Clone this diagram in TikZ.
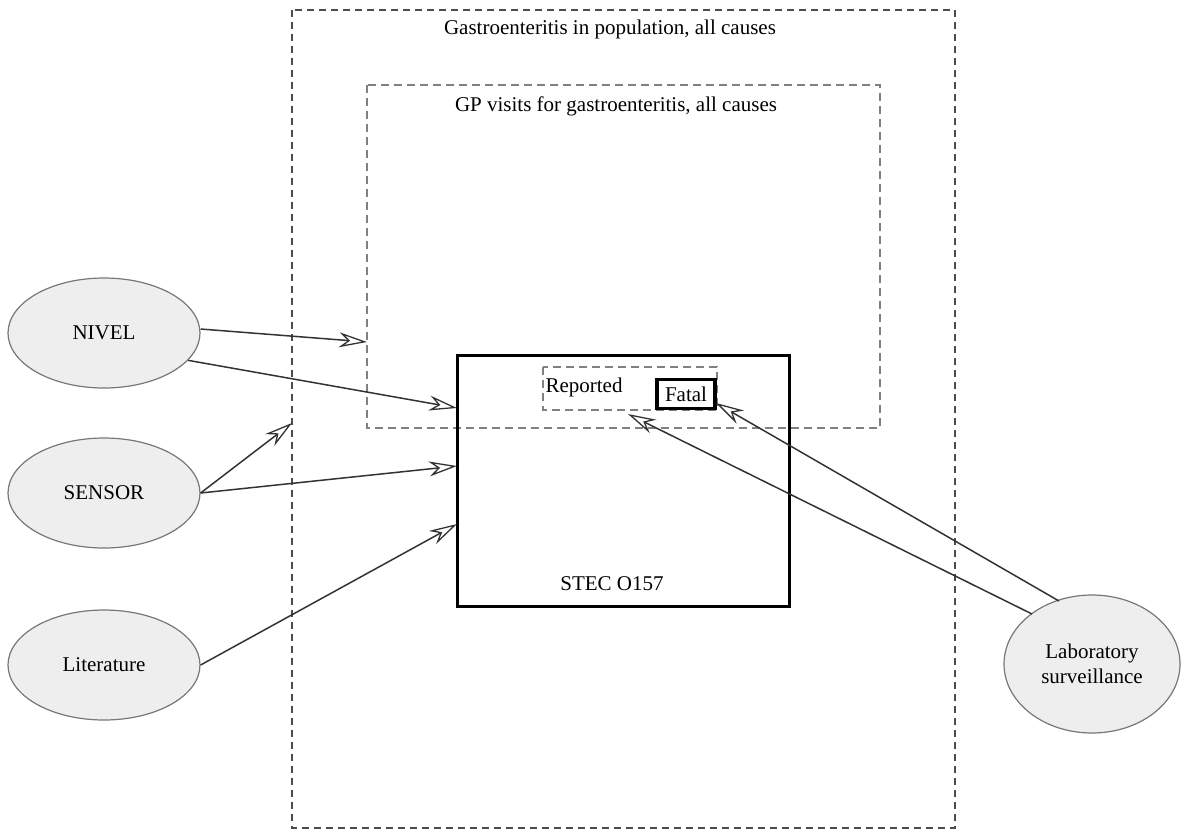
\documentclass[tikz,border=0pt]{standalone}
\usepackage{fontspec}
\setmainfont{Liberation Serif}
\usetikzlibrary{shapes.geometric,arrows.meta}
\definecolor{ellfill}{HTML}{EEEEEE}
\definecolor{ellline}{HTML}{777777}
\definecolor{arr}{HTML}{333333}
\tikzset{
  src/.style={ellipse, draw=ellline, fill=ellfill, line width=1.2pt, minimum width=192pt, minimum height=110pt, inner sep=0pt, align=center, font=\fontsize{21}{25}\selectfont},
  lbl/.style={inner sep=0pt, font=\fontsize{21}{25}\selectfont},
  outerbox/.style={draw=black!70, line width=1.4pt, dash pattern=on 7pt off 5pt},
  gpbox/.style={draw=black!50, line width=1.4pt, dash pattern=on 8pt off 5pt},
  flow/.style={draw=arr, line width=1.5pt, -{Stealth[open, length=28pt, width=15pt, inset=9pt, line width=1.3pt]}},
}
\begin{document}
\begin{tikzpicture}[x=1pt,y=-1pt]
\path[use as bounding box] (0,0) rectangle (1192,831);
% boxes
\draw[outerbox] (292,10) rectangle (955,828);
\draw[gpbox] (367,85) rectangle (880,428);
\draw[draw=black, line width=3pt] (457,355) rectangle (789,606);
\draw[gpbox] (543,367) rectangle (717,410);
\node[draw=black, line width=3.5pt, fill=white, minimum width=58pt, minimum height=29pt, inner sep=0pt, font=\fontsize{21}{25}\selectfont] (fatal) at (686,394) {Fatal};
% labels
\node[lbl] (gastro) at (610,29) {Gastroenteritis in population, all causes};
\node[lbl] (gp) at (616,106) {GP visits for gastroenteritis, all causes};
\node[lbl] (rep) at (584,387) {Reported};
\node[lbl] (stec) at (612,584) {STEC O157};
% sources
\node[src] (nivel) at (104,333) {NIVEL};
\node[src] (sensor) at (104,493) {SENSOR};
\node[src] (lit) at (104,665) {Literature};
\node[src, minimum width=176pt, minimum height=138pt] (lab) at (1092,664) {Laboratory\\surveillance};
% target points
\coordinate (gpL) at (367,342);
\coordinate (stecA) at (457,408);
\coordinate (outerL) at (292,423);
\coordinate (stecB) at (457,466);
\coordinate (stecC) at (457,524);
\coordinate (repB) at (628,414);
\coordinate (fatalC) at (716,403);
\coordinate (labA) at (1032,614);
\coordinate (labB) at (1059,601);
% connectors
\draw[flow] (nivel.east) ++(0,-4) -- (gpL);
\draw[flow] (nivel.-18) -- (stecA);
\draw[flow] (sensor.east) -- (outerL);
\draw[flow] (sensor.east) -- (stecB);
\draw[flow] (lit.east) -- (stecC);
\draw[flow] (labA) -- (repB);
\draw[flow] (labB) -- (fatalC);
\end{tikzpicture}
\end{document}
